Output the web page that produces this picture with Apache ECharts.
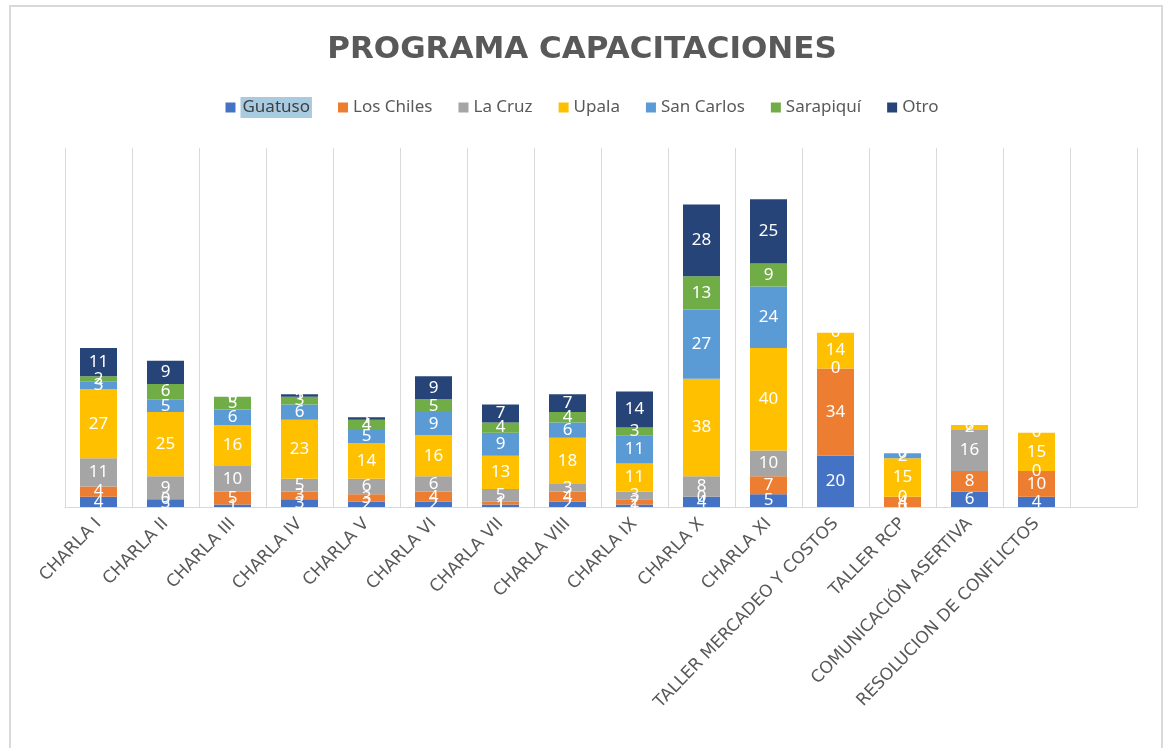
<!DOCTYPE html>
<html>
<head>
<meta charset="utf-8">
<script src="https://cdn.jsdelivr.net/npm/echarts@6/dist/echarts.min.js"></script>
<style>
  html, body { margin: 0; padding: 0; background: #fff; }
  #chart { width: 1164px; height: 748px; }
</style>
</head>
<body>
<div id="chart"></div>
<script>
// categorias (la ultima queda vacia como en el original)
var categories = ['CHARLA I', 'CHARLA II', 'CHARLA III', 'CHARLA IV', 'CHARLA V', 'CHARLA VI',
  'CHARLA VII', 'CHARLA VIII', 'CHARLA IX', 'CHARLA X', 'CHARLA XI',
  'TALLER MERCADEO Y COSTOS', 'TALLER RCP', 'COMUNICACIÓN ASERTIVA', 'RESOLUCION DE CONFLICTOS', '']

// null = celda vacia, 0 = cero con etiqueta
var guatuso   = [4, 3, 1, 3, 2, 2, 1, 2, 1, 4, 5, 20, 0, 6, 4, null]
var losChiles = [4, 0, 5, 3, 3, 4, 1, 4, 2, 0, 7, 34, 4, 8, 10, null]
var laCruz    = [11, 9, 10, 5, 6, 6, 5, 3, 3, 8, 10, 0, 0, 16, 0, null]
var upala     = [27, 25, 16, 23, 14, 16, 13, 18, 11, 38, 40, 14, 15, 2, 15, null]
var sanCarlos = [3, 5, 6, 6, 5, 9, 9, 6, 11, 27, 24, 0, 2, 0, 0, null]
var sarapiqui = [2, 6, 5, 3, 4, 5, 4, 4, 3, 13, 9, null, 0, null, null, null]
var otro      = [11, 9, 0, 1, 1, 9, 7, 7, 14, 28, 25, null, null, null, null, null]

var seriesNames = ['Guatuso', 'Los Chiles', 'La Cruz', 'Upala', 'San Carlos', 'Sarapiquí', 'Otro']
var seriesData = [guatuso, losChiles, laCruz, upala, sanCarlos, sarapiqui, otro]
var colors = ['#4472C4', '#ED7D31', '#A5A5A5', '#FFC000', '#5B9BD5', '#70AD47', '#264478']

var chart = echarts.init(document.getElementById('chart'))

var series = seriesNames.map(function (name, i) {
  return {
    name: name,
    type: 'bar',
    stack: 'total',
    barWidth: 37,
    data: seriesData[i],
    label: {
      show: true,
      position: 'inside',
      color: '#fff',
      fontSize: 17,
      fontFamily: 'Noto Sans',
      formatter: function (p) { return p.value == null ? '' : p.value }
    }
  }
})

chart.setOption({
  color: colors,
  animation: false,
  title: {
    text: 'PROGRAMA CAPACITACIONES',
    left: 'center',
    top: 29,
    textStyle: {
      fontFamily: 'DejaVu Sans',
      fontSize: 31,
      fontWeight: 'bold',
      color: '#595959'
    }
  },
  legend: {
    top: 92,
    left: 'center',
    itemWidth: 10,
    itemHeight: 10,
    itemGap: 26,
    icon: 'rect',
    selectedMode: false,
    formatter: function (name) {
      return name === 'Guatuso' ? '{hl|' + name + '}' : name
    },
    textStyle: {
      fontFamily: 'Noto Sans',
      fontSize: 17,
      color: '#595959',
      rich: {
        hl: {
          fontFamily: 'Noto Sans',
          fontSize: 17,
          color: '#404040',
          backgroundColor: '#a9cbe2',
          padding: [2, 2, 2, 2]
        }
      }
    },
    data: seriesNames
  },
  graphic: [{
    type: 'rect',
    shape: { x: 10, y: 6, width: 1152, height: 760 },
    style: { fill: 'none', stroke: '#d9d9d9', lineWidth: 2 },
    silent: true
  }],
  grid: {
    left: 65,
    right: 27,
    top: 148,
    bottom: 241
  },
  xAxis: {
    type: 'category',
    data: categories,
    axisLine: { lineStyle: { color: '#d9d9d9', width: 1 } },
    axisTick: { show: false },
    splitLine: { show: true, interval: 0, lineStyle: { color: '#d9d9d9', width: 1 } },
    axisLabel: {
      interval: 0,
      rotate: 46,
      margin: 14,
      color: '#595959',
      fontSize: 17,
      fontFamily: 'DejaVu Sans'
    }
  },
  yAxis: {
    type: 'value',
    min: 0,
    max: 140,
    show: false,
    splitLine: { show: false }
  },
  series: series
})
</script>
</body>
</html>
